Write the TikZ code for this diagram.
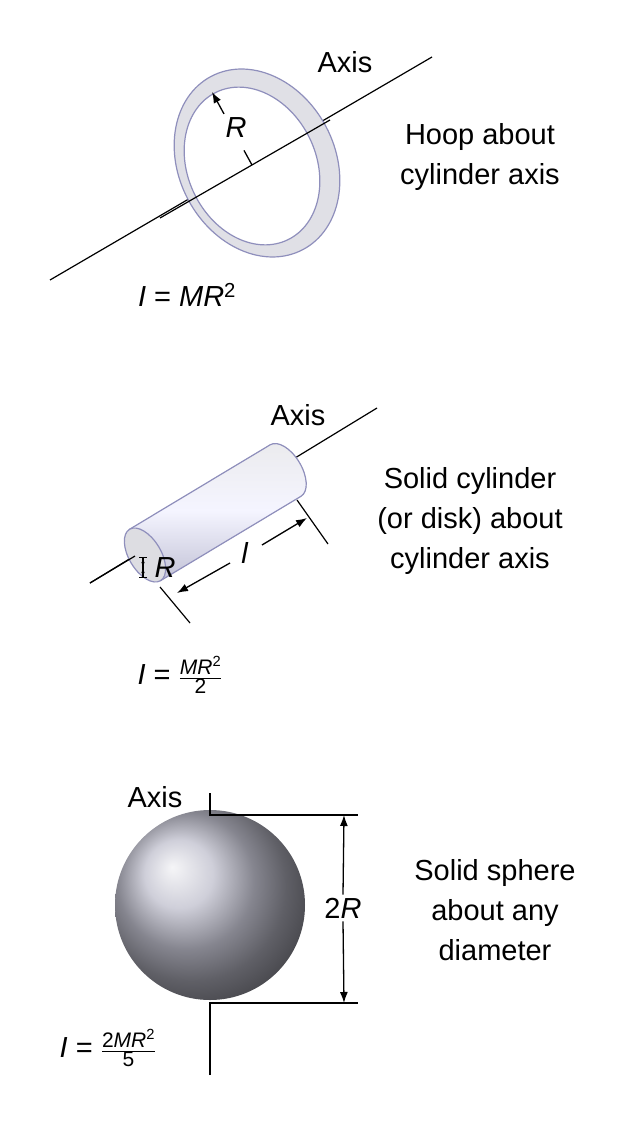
\documentclass[tikz,border=0pt]{standalone}
\usepackage{fontspec}
\setmainfont{Liberation Sans}
\usetikzlibrary{arrows.meta,calc}
\newcommand{\smallfr}[1]{\mbox{\fontsize{21}{24}\selectfont #1}}
\begin{document}
\begin{tikzpicture}[x=1pt,y=-1pt,
  txt/.style={font=\fontsize{29}{40}\selectfont,align=center,inner sep=0},
  ax/.style={line width=1.2pt,black},
  edge/.style={draw=blue!25!gray!70,line width=1.2pt},
  dim/.style={line width=1.3pt,-{Latex[length=11pt,width=8pt]}}]
\useasboundingbox (0,0) rectangle (620,1123);
% hoop
\draw[ax] (50,280) -- (432,57);
\path[edge,fill=blue!10!gray!22] (257,163) ellipse[x radius=98pt,y radius=78pt,rotate=-62];
\path[edge,fill=white] (252,166) ellipse[x radius=82pt,y radius=64pt,rotate=-64];
\draw[ax] (160,218) -- (330,120);
\coordinate (hc) at (252,165);
\coordinate (ht) at (212,92);
\draw[line width=1.3pt] (hc) -- ($(hc)!0.2!(ht)$);
\draw[dim] ($(hc)!0.7!(ht)$) -- (ht);
\node[txt] (hr) at (236,128) {\textit{R}};
\node[txt] (ha) at (345,62) {Axis};
\node[txt] (hl) at (480,157) {Hoop about\\cylinder axis};
\node[txt] (hf) at (187,295) {\textit{I} = \textit{MR}\textsuperscript{2}};
% cylinder
\draw[ax] (90,583) -- (377,408);
\begin{scope}[shift={(145,555)},rotate=31]
\fill[top color=blue!6!gray!15,bottom color=blue!20!gray!40,middle color=blue!4!white] (0pt,30pt) -- (164pt,30pt) arc[start angle=90,end angle=-90,x radius=16pt,y radius=30pt] -- (0pt,-30pt) -- cycle;
\draw[edge] (0pt,30pt) -- (164pt,30pt) arc[start angle=90,end angle=-90,x radius=16pt,y radius=30pt] -- (0pt,-30pt);
\path[edge,fill=blue!8!gray!25] (0,0) ellipse[x radius=16pt,y radius=30pt];
\end{scope}
\draw[ax] (90,583) -- (135,556);
\draw[line width=1.2pt,{Bar[width=8pt]Latex[length=5pt]}-{Latex[length=5pt]Bar[width=8pt]}] (143,557) -- (143,578);
\node[txt] (cr) at (165,568) {\textit{R}};
\draw[line width=1.2pt] (297,500) -- (328,544);
\draw[line width=1.2pt] (160,587) -- (190,623);
\coordinate (cf) at (177,593);
\coordinate (cb) at (307,518);
\draw[dim] (230,563) -- (cf);
\draw[dim] (262,545) -- (cb);
\node[txt] (cl) at (245,553) {\textit{l}};
\node[txt] (ca) at (298,415) {Axis};
\node[txt] (clab) at (470,521) {Solid cylinder\\(or disk) about\\cylinder axis};
\node[txt] (cfm) at (180,675) {\textit{I} = $\frac{\smallfr{\textit{MR}\textsuperscript{2}}}{\smallfr{2}}$};
% sphere
\shade[ball color=blue!12!gray!45] (210,905) circle[radius=95pt];
\draw[line width=1.2pt] (210,793) -- (210,815) -- (358,815);
\draw[line width=1.2pt] (210,1075) -- (210,1003) -- (358,1003);
\node[txt,fill=white,inner sep=3pt] (s2r) at (343,908) {2\textit{R}};
\coordinate (st) at (344,815);
\coordinate (sb) at (344,1003);
\draw[dim] (s2r.north) -- (st);
\draw[dim] (s2r.south) -- (sb);
\node[txt] (sa) at (155,797) {Axis};
\node[txt] (slab) at (495,910) {Solid sphere\\about any\\diameter};
\node[txt] (sf) at (108,1048) {\textit{I} = $\frac{\smallfr{2\textit{MR}\textsuperscript{2}}}{\smallfr{5}}$};
\end{tikzpicture}
\end{document}
